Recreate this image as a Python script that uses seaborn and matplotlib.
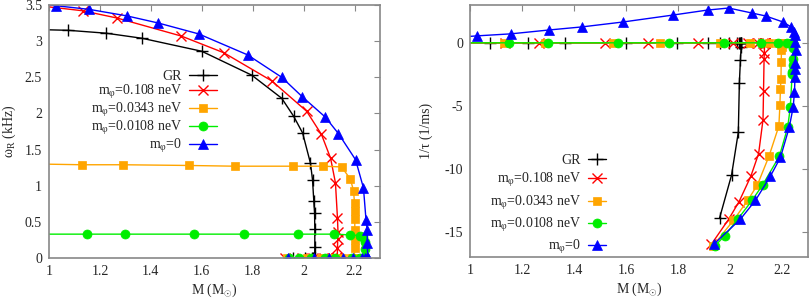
import numpy as np
import pandas as pd
import matplotlib
matplotlib.use("Agg")
import matplotlib.pyplot as plt
import seaborn as sns

# mass (M_sun), real part of frequency (kHz), inverse damping time (1/ms)
gr_m = [0.96, 1.075, 1.224, 1.365, 1.60, 1.796, 1.914, 1.961, 1.996, 2.027, 2.035, 2.040, 2.043, 2.044, 2.044,
        2.043, 2.040, 2.036, 2.032, 2.006, 1.960]
gr_w = [3.16, 3.15, 3.11, 3.04, 2.86, 2.53, 2.21, 1.96, 1.73, 1.31, 1.08, 0.79, 0.62, 0.40, 0.15,
        0, 0, 0, 0, 0, 0]
gr_t = [0] * 15 + [-0.3, -1.4, -3.2, -7.1, -10.5, -13.9]

m108_m = [0.96, 1.133, 1.267, 1.52, 1.686, 1.875, 2.012, 2.07, 2.106, 2.125, 2.133, 2.135, 2.134, 2.133,
          2.132, 2.131, 2.129, 2.127, 2.11, 2.08, 2.035, 1.995, 1.928]
m108_w = [3.49, 3.42, 3.32, 3.07, 2.84, 2.45, 2.03, 1.71, 1.38, 1.04, 0.55, 0.36, 0.26, 0.14,
          0, 0, 0, 0, 0, 0, 0, 0, 0]
m108_t = [0] * 14 + [-0.8, -1.3, -3.8, -6.1, -8.8, -10.6, -12.6, -14.0, -16.0]

m0343_m = [0.96, 1.13, 1.29, 1.55, 1.73, 1.96, 2.078, 2.149, 2.184, 2.196, 2.200, 2.201, 2.201, 2.201, 2.201, 2.200,
           2.199, 2.198, 2.197, 2.196, 2.194, 2.192, 2.188, 2.15, 2.105, 2.068, 2.013, 1.935]
m0343_w = [1.30, 1.29, 1.29, 1.28, 1.27, 1.27, 1.27, 1.26, 1.09, 0.93, 0.76, 0.65, 0.54, 0.39, 0.25, 0.14,
           0, 0, 0, 0, 0, 0, 0, 0, 0, 0, 0, 0]
m0343_t = [0] * 16 + [-0.3, -0.55, -1.5, -2.9, -3.7, -4.9, -6.6, -9.0, -11.3, -12.5, -14.1, -16.1]

m0108_m = [0.96, 1.15, 1.30, 1.57, 1.765, 1.976, 2.118, 2.184, 2.22, 2.235, 2.242, 2.243,
           2.243, 2.242, 2.241, 2.240, 2.239, 2.232, 2.222, 2.19, 2.125, 2.085, 2.03, 1.98, 1.943]
m0108_w = [0.33, 0.33, 0.33, 0.33, 0.33, 0.33, 0.33, 0.32, 0.31, 0.29, 0.22, 0.12,
           0, 0, 0, 0, 0, 0, 0, 0, 0, 0, 0, 0, 0]
m0108_t = [0] * 12 + [-0.4, -1.3, -1.8, -2.3, -2.5, -5.1, -6.7, -9.0, -11.3, -12.5, -14.0, -15.3, -16.1]

m0_m = [0.96, 1.027, 1.157, 1.305, 1.43, 1.588, 1.78, 1.914, 1.995, 2.085, 2.137, 2.204, 2.235, 2.245, 2.25, 2.25,
        2.252, 2.251, 2.25, 2.25, 2.248, 2.243, 2.228, 2.194, 2.155, 2.098, 2.04, 1.937]
m0_w = [3.52, 3.49, 3.44, 3.35, 3.25, 3.10, 2.81, 2.50, 2.23, 1.95, 1.72, 1.36, 0.97, 0.53, 0.39, 0.21,
        0, 0, 0, 0, 0, 0, 0, 0, 0, 0, 0, 0]
m0_t = [0.45, 0.55, 0.71, 1.02, 1.26, 1.65, 2.2, 2.6, 2.76, 2.36, 2.13, 1.65, 1.26, 0.87, 0.6, 0.05,
        -0.55, -1.6, -2.1, -2.7, -3.9, -5.1, -6.7, -9.1, -10.6, -12.5, -14.0, -16.0]

labels = ["GR", r"m$_{\mathrm{φ}}$=0.108 neV", r"m$_{\mathrm{φ}}$=0.0343 neV",
          r"m$_{\mathrm{φ}}$=0.0108 neV", r"m$_{\mathrm{φ}}$=0"]

series = [
    (gr_m, gr_w, gr_t, "black", "+", 8, 1.0),
    (m108_m, m108_w, m108_t, "#ff0000", "x", 6.5, 1.0),
    (m0343_m, m0343_w, m0343_t, "#ffa500", "s", 6, 0),
    (m0108_m, m0108_w, m0108_t, "#00ee00", "o", 6.5, 0),
    (m0_m, m0_w, m0_t, "#0000ff", "^", 6.5, 0),
]

sns.set_style("white")
plt.rcParams["font.family"] = ["Liberation Serif", "DejaVu Serif"]
plt.rcParams["mathtext.fontset"] = "custom"
plt.rcParams["mathtext.rm"] = "Liberation Serif"
plt.rcParams["mathtext.it"] = "Liberation Serif:italic"
plt.rcParams["font.size"] = 10
plt.rcParams["axes.unicode_minus"] = False

fig = plt.figure(figsize=(8.09, 3.01), dpi=100)
ax1 = fig.add_axes([49 / 809, 43 / 301, 331 / 809, 253 / 301])
ax2 = fig.add_axes([470 / 809, 44 / 301, 338 / 809, 252 / 301])

for (m, w, t, c, mk, ms, mew), lab in zip(series, labels):
    kw = dict(color=c, marker=mk, markersize=ms, linewidth=1.0, sort=False, estimator=None,
              markeredgewidth=mew if mew else 0.5, markeredgecolor=c, label=lab)
    sns.lineplot(x=m, y=w, ax=ax1, **kw)
    sns.lineplot(x=m, y=t, ax=ax2, **kw)

for ax in (ax1, ax2):
    ax.set_xlim(1, 2.3)
    ax.set_xticks([1, 1.2, 1.4, 1.6, 1.8, 2.0, 2.2])
    ax.xaxis.set_major_formatter(matplotlib.ticker.FormatStrFormatter("%g"))
    ax.yaxis.set_major_formatter(matplotlib.ticker.FormatStrFormatter("%g"))
    ax.tick_params(direction="in", top=True, right=True, length=4, width=0.8, color="#888888",
                   labelsize=10, pad=5)
    for sp in ax.spines.values():
        sp.set_color("#888888")
        sp.set_linewidth(1.2)
    ax.set_xlabel(r"M (M$_{\odot}$)", fontsize=10, labelpad=3)

ax1.set_ylim(0, 3.5)
ax1.set_yticks(np.arange(0, 3.51, 0.5))
ax1.set_ylabel(r"ω$_{\mathrm{R}}$ (kHz)", fontsize=10, labelpad=5)
ax2.set_ylim(-17, 3)
ax2.set_yticks([-15, -10, -5, 0])
ax2.set_ylabel("1/τ (1/ms)", fontsize=10, labelpad=8)

ax1.legend(loc="center right", bbox_to_anchor=(0.528, 0.575), frameon=False, markerfirst=False,
           handlelength=2.0, handletextpad=0.5, labelspacing=0.0, borderpad=0, fontsize=10)
ax2.legend(loc="center right", bbox_to_anchor=(0.423, 0.206), frameon=False, markerfirst=False,
           handlelength=1.3, handletextpad=0.5, labelspacing=0.3, borderpad=0, fontsize=10)

fig.savefig("out.png", dpi=100)
